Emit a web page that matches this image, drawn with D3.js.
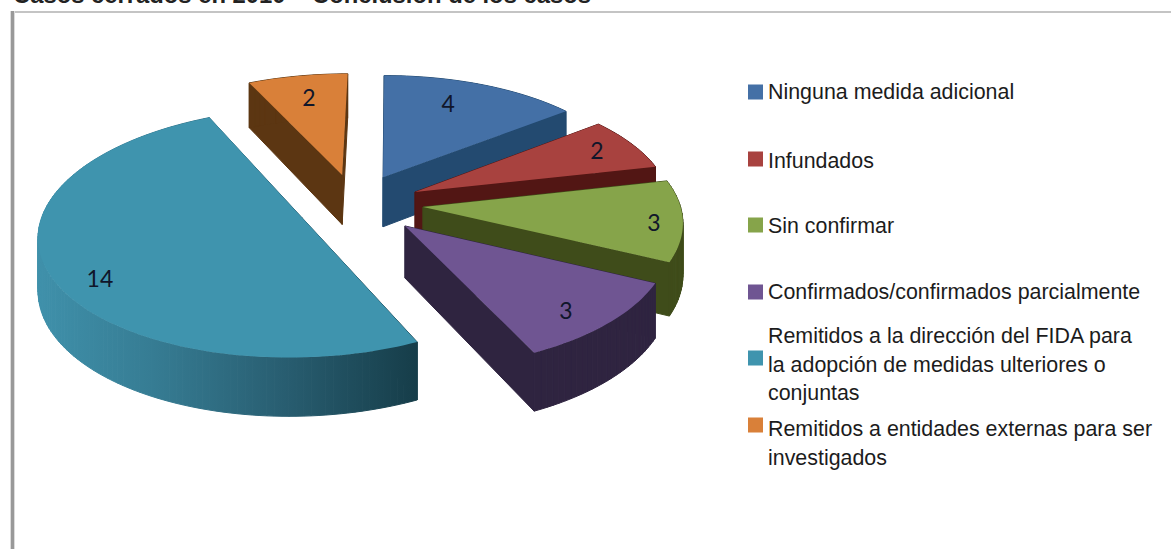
<!DOCTYPE html>
<html><head><meta charset="utf-8">
<script src="https://cdn.jsdelivr.net/npm/d3@7"></script>
<style>html,body{margin:0;padding:0;background:#fff;overflow:hidden}svg{display:block}</style>
</head><body><svg id="c" width="1171" height="549"></svg>
<script>
const categories=["Ninguna medida adicional","Infundados","Sin confirmar","Confirmados/confirmados parcialmente","Remitidos a la dirección del FIDA para la adopción de medidas ulteriores o conjuntas","Remitidos a entidades externas para ser investigados"];
const values=[4,2,3,3,14,2];
const legendLines=[["Ninguna medida adicional"],["Infundados"],["Sin confirmar"],["Confirmados/confirmados parcialmente"],["Remitidos a la dirección del FIDA para","la adopción de medidas ulteriores o","conjuntas"],["Remitidos a entidades externas para ser","investigados"]];
const title="Casos cerrados en 2010 – Conclusión de los casos";

const topColors=["#4470a6","#a8423f","#86a44a","#6f5592","#3f94ae","#d98039"];
const wallColors=["#234a70","#521614","#3f4c1a","#2f2440","url(#tealWall)","#5c3612"];
const explodeX=[-.048,.079,.109,.038,-.358,-.212];
const explodeY=[.2385,.11,-.0166,-.171,-.103,.258];
const labelDX=[.278,.7526,.882,.564,-.712,-.163];
const labelDY=[.708,.375,-.122,-.621,-.464,.751];
const legendY=[92,159,225,292,358,425];
const legendFirstBaseline=[99,168,233,299,343,436];
const drawOrder=[5,0,1,2,3,4];

const A=257,B=120,P=.12,CX=395,CY=205,DEPTH=51;
const project=(X,Y,z=0)=>{const w=1+P*Y;return [CX+A*X/w,CY-B*Y/w+z*DEPTH/w];};

const svg=d3.select("#c");
const grad=svg.append("defs").append("linearGradient").attr("id","tealWall").attr("gradientUnits","userSpaceOnUse").attr("x1",40).attr("x2",418).attr("y1",0).attr("y2",0);
[[0,"#3f90aa"],[.3,"#367c93"],[.65,"#285d70"],[1,"#163d49"]].forEach(([o,c])=>grad.append("stop").attr("offset",o).attr("stop-color",c));

svg.append("text").attr("x",13).attr("y",3).attr("font-family","Liberation Sans").attr("font-weight","bold").attr("font-size",23.8).attr("fill","#222").text(title);
svg.append("line").attr("x1",10).attr("x2",1171).attr("y1",12).attr("y2",12).attr("stroke","#b0b0b0").attr("stroke-width",1.5);
svg.append("line").attr("x1",12.5).attr("x2",12.5).attr("y1",11).attr("y2",549).attr("stroke","#dcdcdc").attr("stroke-width",5);
svg.append("line").attr("x1",12.5).attr("x2",12.5).attr("y1",11).attr("y2",549).attr("stroke","#999").attr("stroke-width",3);

const arcs=d3.pie().sort(null).value(d=>d).startAngle(0).endAngle(2*Math.PI)(values);
const line=d3.line();
const outline=(i,z)=>{
  const a=arcs[i],n=Math.max(8,Math.ceil((a.endAngle-a.startAngle)*40));
  const pts=[project(explodeX[i],explodeY[i],z)];
  d3.range(n+1).forEach(k=>{const t=a.startAngle+(a.endAngle-a.startAngle)*k/n;
    pts.push(project(explodeX[i]+Math.sin(t),explodeY[i]+Math.cos(t),z));});
  return pts;
};
drawOrder.forEach(i=>{
  const g=svg.append("g");
  const t=outline(i,0),b=outline(i,1);
  const walls=g.append("g").attr("fill",wallColors[i]).attr("stroke",wallColors[i]).attr("stroke-width",1);
  t.forEach((p,k)=>{const q=(k+1)%t.length;walls.append("path").attr("d",line([p,t[q],b[q],b[k]])+"Z");});
  g.append("path").attr("d",line(t)+"Z").attr("fill",topColors[i]);
});
arcs.forEach((a,i)=>{
  const [x,y]=project(explodeX[i]+labelDX[i],explodeY[i]+labelDY[i]);
  svg.append("text").attr("x",x).attr("y",y).attr("text-anchor","middle").attr("dominant-baseline","central")
    .attr("font-family","Lato").attr("font-size",23).attr("fill","#10162a").text(values[i]);
});
const legend=svg.append("g").attr("font-family","Liberation Sans").attr("font-size",21.4).attr("fill","#1c1c1c");
categories.forEach((c,i)=>{
  legend.append("rect").attr("x",748).attr("y",legendY[i]-7.5).attr("width",15).attr("height",15).attr("fill",topColors[i]);
  legendLines[i].forEach((l,j)=>legend.append("text").attr("x",768).attr("y",legendFirstBaseline[i]+j*28.5).text(l));
});
</script></body></html>
